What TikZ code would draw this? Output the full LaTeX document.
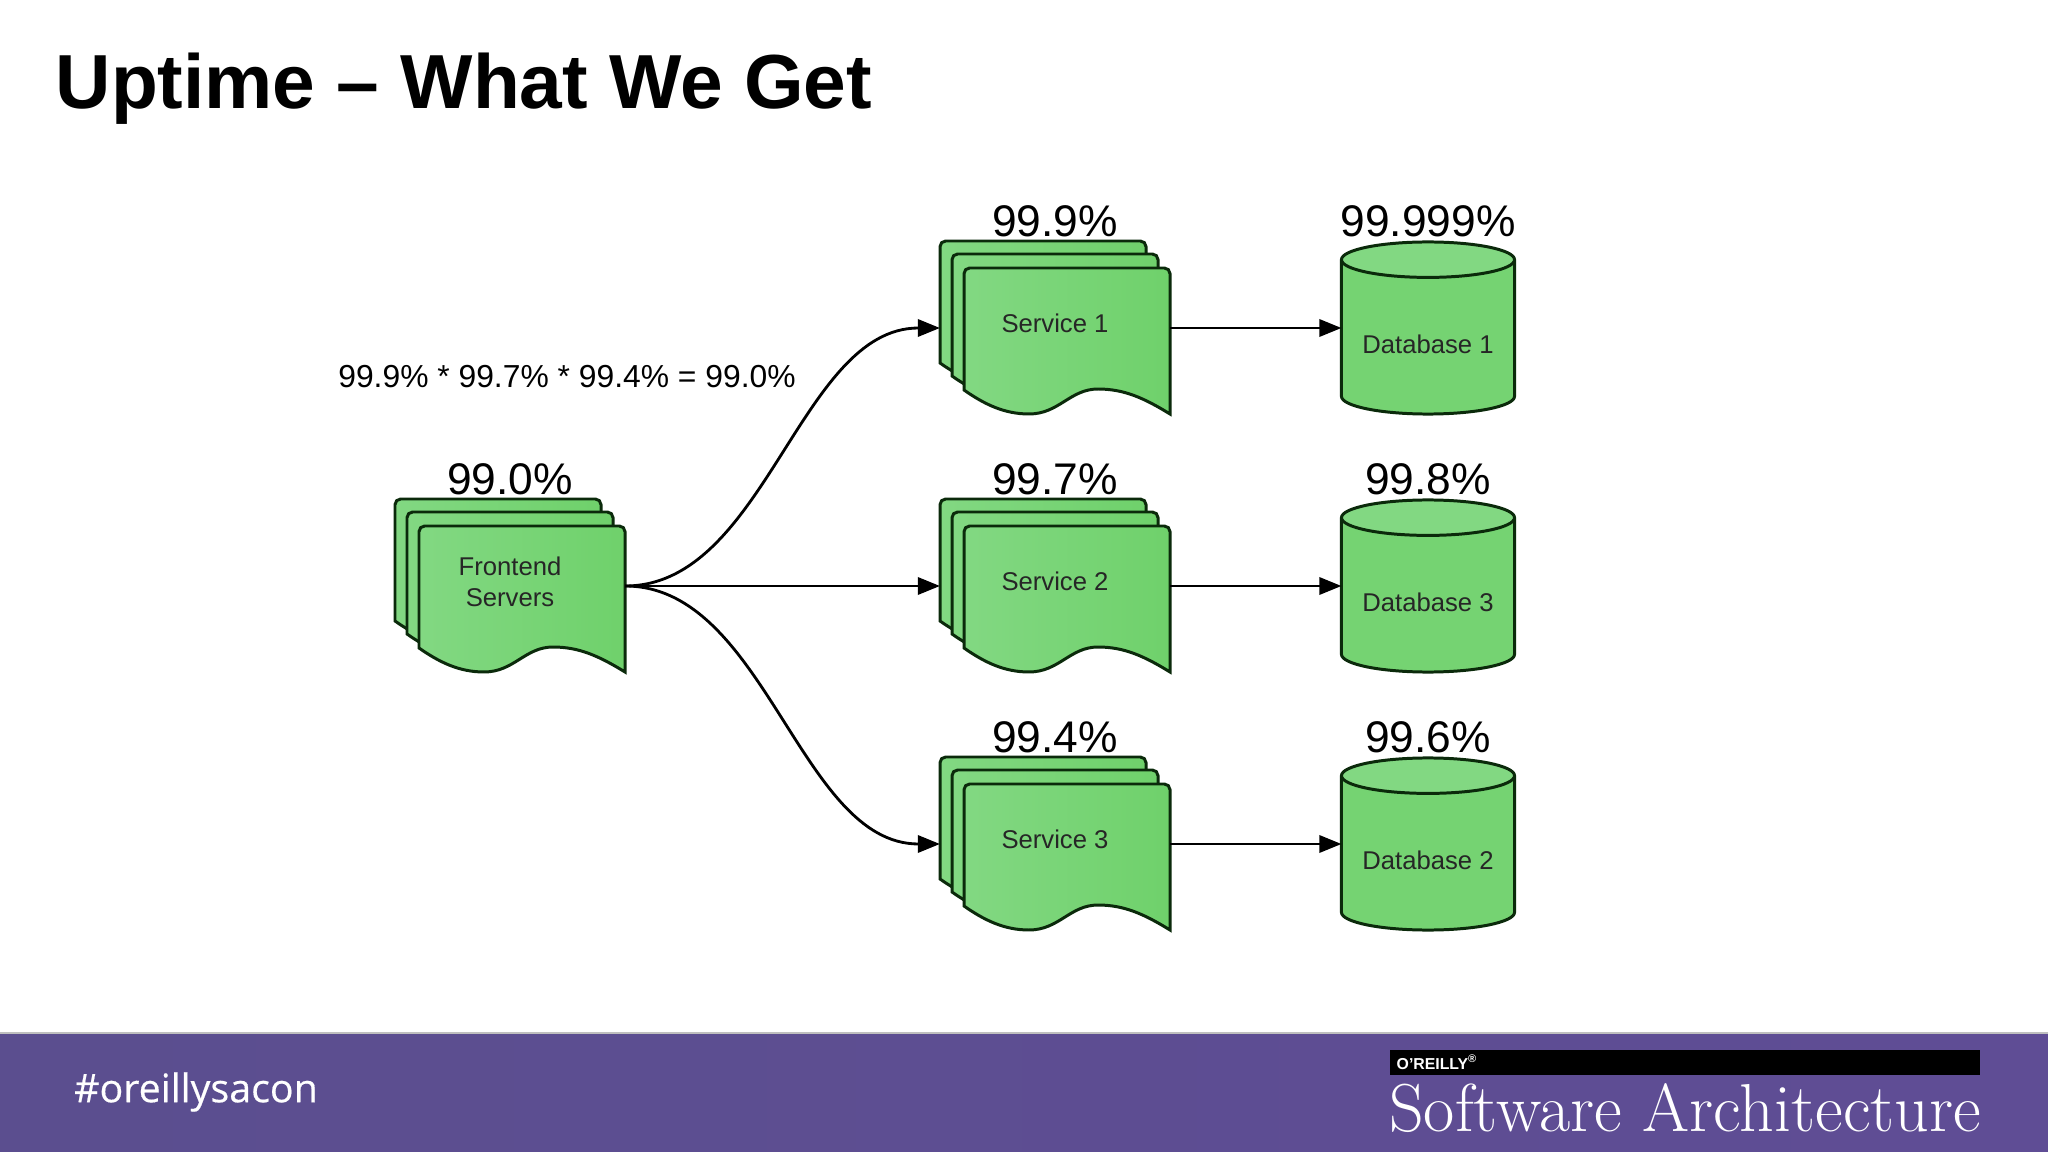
\documentclass[tikz,border=0pt]{standalone}
\usepackage{fontspec}
\setsansfont{Liberation Sans}
\newfontfamily\hashfont[FakeBold=0.4]{Open Sans}
\usetikzlibrary{arrows.meta,shapes.geometric}
\definecolor{sheetline}{HTML}{0B2A0B}
\definecolor{sheetleft}{HTML}{82D882}
\definecolor{sheetright}{HTML}{6FD16B}
\definecolor{footerleft}{HTML}{5B4E8F}
\definecolor{footerright}{HTML}{5F4D95}
\tikzset{
  sheets/.pic={
    \foreach \dx/\dy in {-115/-87,-103/-74,-91/-60}
      \draw [shift={(\dx,\dy)},draw=sheetline,line width=0.85pt,left color=sheetleft,right color=sheetright]
        [rounded corners=1.6pt] (0,122) -- (0,0) -- (206,0) [sharp corners] -- (206,146)
        .. controls (180,130) and (160,121) .. (134,121)
        .. controls (106,121) and (95,146) .. (65,146)
        .. controls (40,146) and (20,136) .. (0,122) -- cycle;
  }
}
\begin{document}
\begin{tikzpicture}[x=0.01cm,y=-0.01cm]
\tikzstyle{stack}=[anchor=center,minimum width=230*0.2845pt,minimum height=175*0.2845pt,inner sep=0pt,outer sep=0pt,align=center,text depth=2.5pt,font=\sffamily\fontsize{7.3}{8.9}\selectfont,text=black!85]
\tikzstyle{database}=[cylinder,shape border rotate=90,aspect=0.27,anchor=shape center,minimum width=173*0.2845pt,minimum height=172*0.2845pt,inner sep=0pt,outer sep=0pt,draw=sheetline,line width=0.85pt,cylinder uses custom fill,cylinder body fill=sheetright!70!sheetleft,cylinder end fill=sheetleft,text height=8.9pt,font=\sffamily\fontsize{7.3}{9}\selectfont,text=black!85]
\tikzstyle{uptime}=[anchor=center,inner sep=0pt,font=\sffamily\fontsize{12.6}{15}\selectfont]
\tikzstyle{arrow}=[-{Triangle[length=6.3pt,width=4.9pt]},line width=0.8pt,black]

\useasboundingbox (0,0) rectangle (2048,1152);
\fill [white] (0,0) rectangle (2048,1152);

\node [anchor=west,inner sep=0pt,font=\sffamily\bfseries\fontsize{21.8}{26}\selectfont] at (55,89) (title) {Uptime -- What We Get};

\node [anchor=center,inner sep=0pt,font=\sffamily\fontsize{9.05}{11}\selectfont] at (567,377) (formula) {99.9\% * 99.7\% * 99.4\% = 99.0\%};

\pic at (510,586) {sheets};
\node [stack] at (510,586) (frontend) {Frontend\\Servers};
\node [uptime] at (510,479) (frontendup) {99.0\%};

\pic at (1055,328) {sheets};
\node [stack] at (1055,328) (service1) {Service 1};
\node [uptime] at (1055,221) (service1up) {99.9\%};

\pic at (1055,586) {sheets};
\node [stack] at (1055,586) (service2) {Service 2};
\node [uptime] at (1055,479) (service2up) {99.7\%};

\pic at (1055,844) {sheets};
\node [stack] at (1055,844) (service3) {Service 3};
\node [uptime] at (1055,737) (service3up) {99.4\%};

\node [database] at (1428,328) (db1) {Database 1};
\node [uptime] at (1428,221) (db1up) {99.999\%};

\node [database] at (1428,586) (db3) {Database 3};
\node [uptime] at (1428,479) (db3up) {99.8\%};

\node [database] at (1428,844) (db2) {Database 2};
\node [uptime] at (1428,737) (db2up) {99.6\%};

\path [arrow] (frontend.east) edge [out=0,in=180,looseness=0.88] (service1.west);
\path [arrow] (frontend.east) edge (service2.west);
\path [arrow] (frontend.east) edge [out=0,in=180,looseness=0.88] (service3.west);

\path [arrow] (service1.east) edge (db1.shape center -| db1.west);
\path [arrow] (service2.east) edge (db3.shape center -| db3.west);
\path [arrow] (service3.east) edge (db2.shape center -| db2.west);

\fill [black!25] (0,1032) rectangle (2048,1035);
\shade [left color=footerleft,right color=footerright] (0,1034) rectangle (2048,1152);
\node [anchor=center,inner sep=0pt,text=white,font=\hashfont\fontsize{11.2}{14}\selectfont] at (196,1092) (hashtag) {\#oreillysacon};
\fill [black] (1390,1050) rectangle (1980,1075);
\node [anchor=west,inner sep=0pt,text=white,font=\sffamily\bfseries\fontsize{4.5}{5}\selectfont] at (1396,1062) (oreilly) {O'REILLY\textsuperscript{\textregistered}};
\node [anchor=center,inner sep=0pt,text=white,font=\fontsize{19.3}{22}\selectfont] at (1685,1108) (softarch) {Software Architecture};
\end{tikzpicture}
\end{document}
